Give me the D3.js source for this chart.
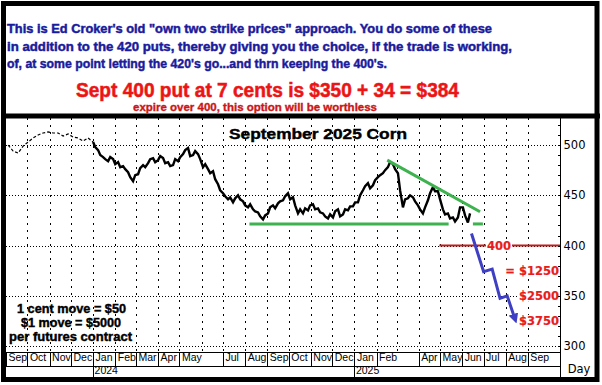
<!DOCTYPE html>
<html><head><meta charset="utf-8">
<script src="https://cdn.jsdelivr.net/npm/d3@7"></script>
<style>body{margin:0;background:#fff}svg{display:block}</style>
</head><body>
<svg id="c" width="602" height="385"></svg>
<script>
// ---------------- DATA ----------------
const noteLines = [
  "This is Ed Croker's old \"own two strike prices\" approach. You do some of these",
  "in addition to the 420 puts, thereby giving you the choice, if the trade is working,",
  "of, at some point letting the 420's go...and thrn keeping the 400's."
];
const offerLine = "Sept 400 put at 7 cents is $350 + 34 = $384";
const expireLine = "expire over 400, this option will be worthless";
const chartTitle = "September 2025 Corn";
const contractLines = ["1 cent move = $50", "$1 move = $5000", "per futures contract"];
const axisUnit = "Day";

const axisStart = "2023-09-01", axisEnd = "2025-10-16";
const yMin = 294.1, yMax = 526.9;
const yTicks = [300, 350, 400, 450, 500];
const yMinorTicks = [300,310,320,330,340,350,360,370,380,390,400,410,420,430,440,450,460,470,480,490,500,510,520];

const monthStarts = ["2023-09-01","2023-10-01","2023-11-01","2023-12-01","2024-01-01","2024-02-01","2024-03-01","2024-04-01","2024-05-01","2024-06-01","2024-07-01","2024-08-01","2024-09-01","2024-10-01","2024-11-01","2024-12-01","2025-01-01","2025-02-01","2025-03-01","2025-04-01","2025-05-01","2025-06-01","2025-07-01","2025-08-01","2025-09-01"];
const monthLabels = ["Sep","Oct","Nov","Dec","Jan","Feb","Mar","Apr","May","","Jul","Aug","Sep","Oct","Nov","Dec","Jan","Feb","","Apr","May","Jun","Jul","Aug","Sep"];
const yearStarts = ["2024-01-01","2025-01-01"];
const yearLabels = ["2024","2025"];

// early (thin, broken) part of the price history
const earlyDates = ["2023-09-04","2023-09-11","2023-09-18","2023-09-25","2023-10-02","2023-10-09","2023-10-16","2023-10-23","2023-10-30","2023-11-06","2023-11-13","2023-11-20","2023-11-27","2023-12-04","2023-12-11","2023-12-18","2023-12-25","2024-01-01"];
const earlyValues = [500,494,492,499,503,507,510,512,513,512,512,509,511,508,507,504,507,503];

// main price path (roughly twice a week)
const priceDates = ["2024-01-01","2024-01-04","2024-01-08","2024-01-11","2024-01-15","2024-01-18","2024-01-22","2024-01-25","2024-01-29","2024-02-01","2024-02-05","2024-02-08","2024-02-12","2024-02-15","2024-02-19","2024-02-22","2024-02-26","2024-02-29","2024-03-04","2024-03-07","2024-03-11","2024-03-14","2024-03-18","2024-03-21","2024-03-25","2024-03-28","2024-04-01","2024-04-04","2024-04-08","2024-04-11","2024-04-15","2024-04-18","2024-04-22","2024-04-25","2024-04-29","2024-05-02","2024-05-06","2024-05-09","2024-05-13","2024-05-16","2024-05-20","2024-05-23","2024-05-27","2024-05-30","2024-06-03","2024-06-06","2024-06-10","2024-06-13","2024-06-17","2024-06-20","2024-06-24","2024-06-27","2024-07-01","2024-07-04","2024-07-08","2024-07-11","2024-07-15","2024-07-18","2024-07-22","2024-07-25","2024-07-29","2024-08-01","2024-08-05","2024-08-08","2024-08-12","2024-08-15","2024-08-19","2024-08-22","2024-08-26","2024-08-29","2024-09-02","2024-09-05","2024-09-09","2024-09-12","2024-09-16","2024-09-19","2024-09-23","2024-09-26","2024-09-30","2024-10-03","2024-10-07","2024-10-10","2024-10-14","2024-10-17","2024-10-21","2024-10-24","2024-10-28","2024-10-31","2024-11-04","2024-11-07","2024-11-11","2024-11-14","2024-11-18","2024-11-21","2024-11-25","2024-11-28","2024-12-02","2024-12-05","2024-12-09","2024-12-12","2024-12-16","2024-12-19","2024-12-23","2024-12-26","2024-12-30","2025-01-02","2025-01-06","2025-01-09","2025-01-13","2025-01-16","2025-01-20","2025-01-23","2025-01-27","2025-01-30","2025-02-03","2025-02-06","2025-02-10","2025-02-13","2025-02-17","2025-02-20","2025-02-24","2025-02-27","2025-03-03","2025-03-06","2025-03-10","2025-03-13","2025-03-17","2025-03-20","2025-03-24","2025-03-27","2025-03-31","2025-04-03","2025-04-07","2025-04-10","2025-04-14","2025-04-17","2025-04-21","2025-04-24","2025-04-28","2025-05-01","2025-05-05","2025-05-08","2025-05-12","2025-05-15","2025-05-19","2025-05-22","2025-05-26","2025-05-29","2025-06-02","2025-06-05","2025-06-09","2025-06-12"];
const priceValues = [503,498,495,490,488,486,484,488,486,481,483,478,479,476,473,468,464,470,471,477,480,478,482,486,487,483,485,489,487,482,483,479,480,486,484,488,491,495,497,489,490,494,491,486,478,481,476,472,474,466,461,455,452,449,446,448,443,447,450,446,444,440,438,441,436,434,433,429,426,430,432,438,440,437,442,444,445,449,452,446,448,440,432,436,432,437,435,440,441,436,437,433,432,429,427,431,428,434,436,429,431,436,435,439,439,443,443,450,455,459,462,457,460,465,468,470,472,475,478,483,481,476,472,455,438,446,447,450,448,444,440,436,432,438,445,452,458,454,454,446,436,431,432,427,428,424,428,438,438,430,423,432,430,421];

const supportDates = ["2024-08-07","2025-05-13"];
const supportStubDates = ["2025-06-16","2025-06-30"];
const supportLevel = 421.5;
const trendDates = ["2025-02-16","2025-06-26"];
const trendValues = [485, 433.6];
const strikeDates = ["2025-04-30","2025-10-16"];
const strikeLevel = 400;
const strikeLabel = "400";
const projDates = ["2025-06-14","2025-07-01","2025-07-13","2025-07-24","2025-08-03","2025-08-13"];
const projValues = [412, 374, 376.5, 347.5, 350, 329];
const payoffLabels = ["= $1250", "$2500", "$3750"];
const payoffLevels = [375, 350, 325];

// ---------------- CHART ----------------
const parse = d3.timeParse("%Y-%m-%d");
const svg = d3.select("#c");
const L = 6, R = 560, T = 118, B = 352, MB = 366, YB = 377;
const x = d3.scaleTime().domain([parse(axisStart), parse(axisEnd)]).range([L, R]);
const y = d3.scaleLinear().domain([yMin, yMax]).range([B, T]);
const ARIAL = "'Liberation Sans', Arial, sans-serif";
const VERD = "'DejaVu Sans', Verdana, sans-serif";

svg.append("rect").attr("width", 602).attr("height", 385).attr("fill", "#fff");

function txt(g, s, px, py, size, color, len, weight = "bold", fam = ARIAL, heavy = 0) {
  const t = g.append("text").attr("x", px).attr("y", py).text(s)
    .attr("font-family", fam).attr("font-size", size).attr("font-weight", weight)
    .attr("fill", color);
  if (heavy) t.attr("stroke", color).attr("stroke-width", heavy);
  if (len) t.attr("textLength", len).attr("lengthAdjust", "spacingAndGlyphs");
  return t;
}

// header notes
const head = svg.append("g");
const noteLens = [485, 505, 380];
const noteBase = [33, 50.5, 68];
noteLines.forEach((s, i) => txt(head, s, 7, noteBase[i], 12.5, "#1a1a9c", noteLens[i], "bold", ARIAL, 0.45));
txt(head, offerLine, 76, 96.5, 19.5, "#ec1515", 383, "bold", ARIAL, 0.5);
txt(head, expireLine, 133, 111, 11.5, "#cc1616", 244, "bold", ARIAL, 0.35);

// grid
const grid = svg.append("g").attr("shape-rendering", "crispEdges");
grid.selectAll("line.h").data(yTicks).join("line")
  .attr("x1", L).attr("x2", R - 3).attr("y1", d => Math.round(y(d)) + 0.5).attr("y2", d => Math.round(y(d)) + 0.5)
  .attr("stroke", "#000").attr("stroke-dasharray", "1,2");
grid.selectAll("line.v").data(monthStarts.slice(1)).join("line")
  .attr("x1", d => Math.round(x(parse(d))) + 0.5).attr("x2", d => Math.round(x(parse(d))) + 0.5)
  .attr("y1", T).attr("y2", B).attr("stroke", "#000").attr("stroke-dasharray", "2,5");

// title
txt(svg, chartTitle, 229, 139, 15, "#000", 178, "bold", ARIAL, 0.4);

// contract note
const cn = svg.append("g");
const cnX = [17, 21, 9], cnLen = [109, 100, 123], cnY = [313, 327, 341];
contractLines.forEach((s, i) => txt(cn, s, cnX[i], cnY[i], 12.5, "#000", cnLen[i], "bold", ARIAL, 0.4));

// price
const line = d3.line().x(d => x(d[0])).y(d => y(d[1]));
svg.append("path").datum(earlyDates.map((d, i) => [parse(d), earlyValues[i]]))
  .attr("d", line).attr("fill", "none").attr("stroke", "#000").attr("stroke-width", 1.2)
  .attr("stroke-dasharray", "3,2");
svg.append("path").datum(priceDates.map((d, i) => [parse(d), priceValues[i]]))
  .attr("d", line).attr("fill", "none").attr("stroke", "#000").attr("stroke-width", 2.4)
  .attr("stroke-linejoin", "miter").attr("stroke-miterlimit", 3);

// green lines
const green = "#3db24e";
svg.append("line").attr("x1", x(parse(supportDates[0]))).attr("x2", x(parse(supportDates[1])))
  .attr("y1", y(supportLevel)).attr("y2", y(supportLevel)).attr("stroke", green).attr("stroke-width", 3);
svg.append("line").attr("x1", x(parse(supportStubDates[0]))).attr("x2", x(parse(supportStubDates[1])))
  .attr("y1", y(supportLevel)).attr("y2", y(supportLevel)).attr("stroke", green).attr("stroke-width", 3);
svg.append("line").attr("x1", x(parse(trendDates[0]))).attr("x2", x(parse(trendDates[1])))
  .attr("y1", y(trendValues[0])).attr("y2", y(trendValues[1])).attr("stroke", green).attr("stroke-width", 3);

// strike line
svg.append("line").attr("x1", x(parse(strikeDates[0]))).attr("x2", x(parse(strikeDates[1])))
  .attr("y1", y(strikeLevel)).attr("y2", y(strikeLevel)).attr("stroke", "#c01c1c").attr("stroke-width", 2);

// projection arrow
const defs = svg.append("defs");
defs.append("marker").attr("id", "ah").attr("viewBox", "0 0 10 10").attr("refX", 3).attr("refY", 5)
  .attr("markerWidth", 3.3).attr("markerHeight", 3.3).attr("orient", "auto")
  .append("path").attr("d", "M0,0L10,5L0,10z").attr("fill", "#3f3fc4");
svg.append("path").datum(projDates.map((d, i) => [parse(d), projValues[i]]))
  .attr("d", line).attr("fill", "none").attr("stroke", "#3f3fc4").attr("stroke-width", 3)
  .attr("stroke-linejoin", "miter").attr("marker-end", "url(#ah)");

// red labels
const lab = svg.append("g");
function redLabel(s, xr, yc) {
  const t = txt(lab, s, xr, yc + 4, 11.5, "#e81c1c", null, "bold", VERD, 0.2).attr("text-anchor", "end");
  const bb = t.node().getBBox();
  lab.insert("rect", "text").attr("x", bb.x - 1).attr("y", bb.y + 1).attr("width", bb.width + 2).attr("height", bb.height - 2).attr("fill", "#fff");
}
payoffLabels.forEach((s, i) => redLabel(s, R - 1, y(payoffLevels[i])));
redLabel(strikeLabel, 511, y(strikeLevel));
lab.selectAll("text").raise();

// right axis
const ax = svg.append("g").attr("shape-rendering", "crispEdges");
ax.append("line").attr("x1", R + 0.5).attr("x2", R + 0.5).attr("y1", T).attr("y2", YB).attr("stroke", "#000");
const minor = d3.axisLeft(y).tickValues(yMinorTicks).tickSize(3).tickFormat("");
ax.append("g").attr("transform", `translate(${R + 0.5},0)`).call(minor).call(g => g.select(".domain").remove());
const major = d3.axisRight(y).tickValues(yTicks).tickSize(0).tickPadding(3);
ax.append("g").attr("transform", `translate(${R + 0.5},0)`).call(major)
  .call(g => g.select(".domain").remove())
  .call(g => g.selectAll("text").attr("font-family", VERD).attr("font-size", 11.5).attr("fill", "#000"));
txt(svg, axisUnit, 579, 373, 11.5, "#000", null, "normal", VERD).attr("text-anchor", "middle");

// bottom month/year axis
const bx = svg.append("g").attr("shape-rendering", "crispEdges");
bx.append("line").attr("x1", L).attr("x2", R).attr("y1", B + 0.5).attr("y2", B + 0.5).attr("stroke", "#000");
bx.append("line").attr("x1", L).attr("x2", R).attr("y1", MB + 0.5).attr("y2", MB + 0.5).attr("stroke", "#000");
const labeled = monthStarts.map((d, i) => [d, monthLabels[i]]).filter(d => d[1] !== "");
const mAxis = d3.axisBottom(x).tickValues(labeled.map(d => parse(d[0]))).tickSize(MB - B)
  .tickFormat((d, i) => labeled[i][1]);
bx.append("g").attr("transform", `translate(0,${B})`).call(mAxis)
  .call(g => g.select(".domain").remove())
  .call(g => g.selectAll("text").attr("text-anchor", "start").attr("x", 2).attr("y", 1.5).attr("dy", "0.71em")
    .attr("font-family", ARIAL).attr("font-size", 10.5).attr("fill", "#000"));
const yAxis = d3.axisBottom(x).tickValues(yearStarts.map(parse)).tickSize(YB - MB)
  .tickFormat((d, i) => yearLabels[i]);
bx.append("g").attr("transform", `translate(0,${MB})`).call(yAxis)
  .call(g => g.select(".domain").remove())
  .call(g => g.selectAll("text").attr("text-anchor", "start").attr("x", 1).attr("y", 0.5).attr("dy", "0.71em")
    .attr("font-family", ARIAL).attr("font-size", 10.5).attr("fill", "#000"));

// frame
svg.append("rect").attr("x", 1).attr("y", 113.5).attr("width", 599).attr("height", 5).attr("fill", "#000");
svg.append("rect").attr("x", 3.5).attr("y", 3.5).attr("width", 593.5).attr("height", 376)
  .attr("fill", "none").attr("stroke", "#000").attr("stroke-width", 5);
</script>
</body></html>
